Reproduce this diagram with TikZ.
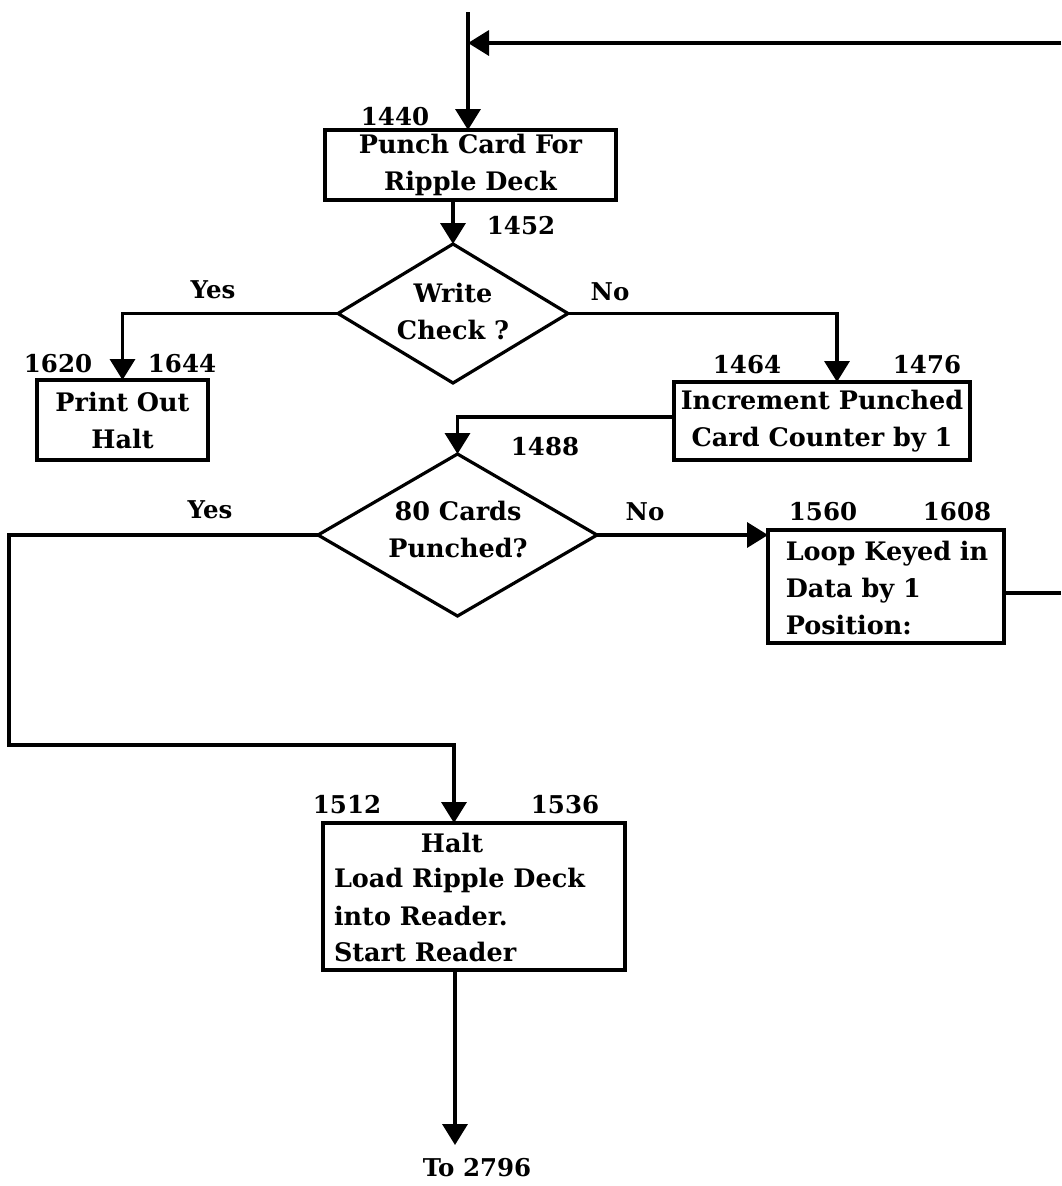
\documentclass[tikz,border=0pt]{standalone}
\usepackage{fontspec}
\setmainfont{DejaVu Serif}
\usetikzlibrary{arrows.meta,shapes.geometric}
\begin{document}
\begin{tikzpicture}[x=1pt,y=-1pt,
  every node/.style={font=\fontsize{25.5}{37}\selectfont\bfseries, inner sep=0pt, outer sep=0pt},
  box/.style={draw, line width=3.2pt, rectangle, align=center},
  dia/.style={draw, line width=3.2pt, diamond},
  lbl/.style={font=\fontsize{24.5}{30}\selectfont\bfseries},
  ln/.style={line width=3.5pt},
  arr/.style={line width=3.5pt, -{Triangle[length=21pt,width=25pt]}}]
\useasboundingbox (0,0) rectangle (1061,1186);
\fill[white] (0,0) rectangle (1061,1186);

% boxes
\node[box, minimum width=291pt, minimum height=70pt] (b1) at (470.5,165) {Punch Card For\\Ripple Deck};
\node[dia, minimum width=230pt, minimum height=139pt] (d1) at (453,313.5) {};
\node (d1t) at (453,311) [align=center] {Write\\Check ?};
\node[box, minimum width=171pt, minimum height=80pt] (pr) at (122.5,420) {Print Out\\Halt};
\node[box, minimum width=296pt, minimum height=78pt] (inc) at (822,421) {Increment Punched\\Card Counter by 1};
\node[dia, minimum width=279pt, minimum height=162pt] (d2) at (457.5,535) {};
\node (d2t) at (458,529) [align=center] {80 Cards\\Punched?};
\node[box, minimum width=236pt, minimum height=113pt] (lp) at (886,586.5) {};
\node (lpt) at (887,588) [align=left] {Loop Keyed in\\Data by 1\\Position:};
\node[box, minimum width=302pt, minimum height=147pt] (ht) at (474,896.5) {};
\node (ht1) at (452,843) {Halt};
\node (ht2) [anchor=west] at (334,880) {Load Ripple Deck};
\node (ht3) [anchor=west] at (334,916) {into Reader.};
\node (ht4) [anchor=west] at (334,952) {Start Reader};

% labels
\node[lbl] (l1440) at (395,117) {1440};
\node[lbl] (l1452) at (521,226) {1452};
\node[lbl] (y1) at (213,290) {Yes};
\node[lbl] (n1) at (610,292) {No};
\node[lbl] (l1620) at (58,364) {1620};
\node[lbl] (l1644) at (182,364) {1644};
\node[lbl] (l1464) at (747,365) {1464};
\node[lbl] (l1476) at (927,365) {1476};
\node[lbl] (l1488) at (545,447) {1488};
\node[lbl] (y2) at (210,510) {Yes};
\node[lbl] (n2) at (645,512) {No};
\node[lbl] (l1560) at (823,512) {1560};
\node[lbl] (l1608) at (957,512) {1608};
\node[lbl] (l1512) at (347,805) {1512};
\node[lbl] (l1536) at (565,805) {1536};
\node[lbl] (to) at (477,1168) {To 2796};

% connector coordinates
\coordinate (start) at (468,12);
\coordinate (ret) at (1061,43);
\coordinate (rx) at (1061,593);
\coordinate (c1) at (9,745);
\coordinate (fin) at (455,1145);

% connectors
\draw[arr] (start) -- (b1.north -| start);
\draw[arr] (ret) -- (ret -| start);
\draw[arr] (d1.north |- b1.south) -- (d1.north);
\draw[arr] (d1.west) -| (pr.north);
\draw[arr] (d1.east) -| ([xshift=15pt]inc.north);
\draw[arr] ([yshift=4pt]inc.west) -| (d2.north);
\draw[arr] (d2.west) -| (c1) -| ([xshift=-20pt]ht.north);
\draw[arr] (d2.east) -- (d2.east -| lp.west);
\draw[ln] (lp.east |- rx) -- (rx);
\draw[arr] (fin |- ht.south) -- (fin);
\end{tikzpicture}
\end{document}
